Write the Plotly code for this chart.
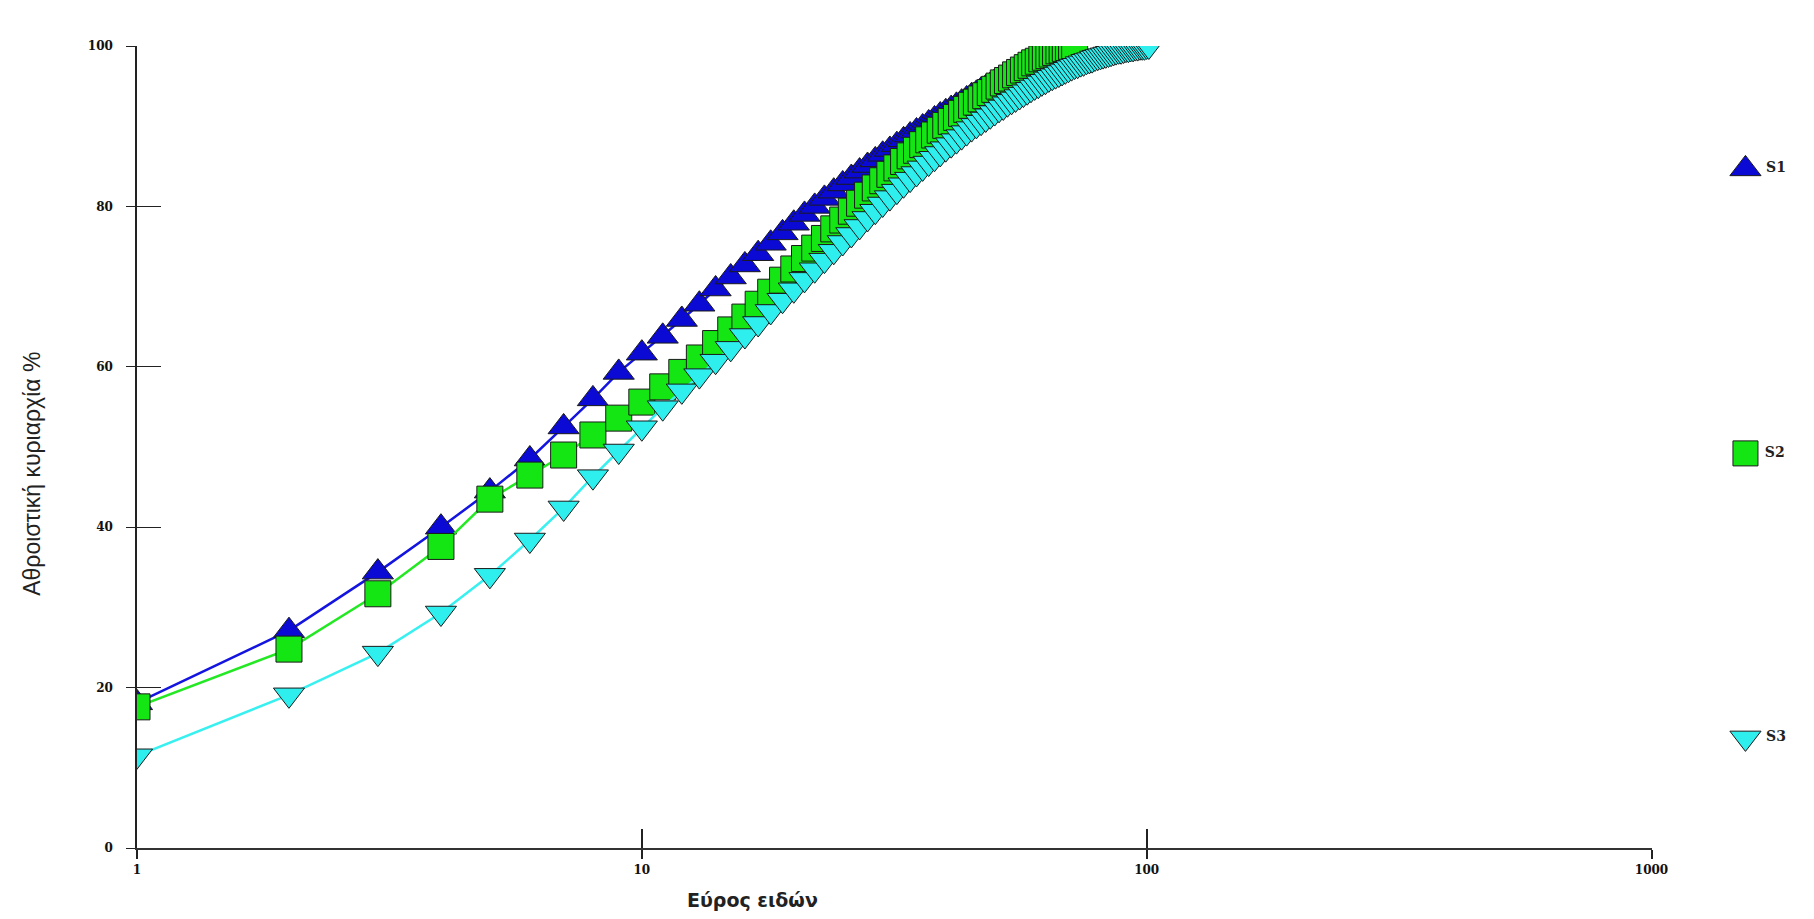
import plotly.graph_objects as go

series_names = ["S1", "S2", "S3"]

s1_values = [18.1, 27.1, 34.4, 40.0, 44.5, 48.5, 52.5, 56.0, 59.3, 61.7,
             63.8, 65.9, 67.8, 69.7, 71.2, 72.7, 74.1, 75.4, 76.7, 77.9,
             79.0, 80.0, 81.0, 81.9, 82.8, 83.6, 84.4, 85.1, 85.8, 86.5,
             87.1, 87.7, 88.3, 88.9, 89.4, 89.9, 90.4, 90.9, 91.4, 91.8,
             92.2, 92.6, 93.0, 93.4, 93.8, 94.1, 94.5, 94.8, 95.1, 95.5,
             95.8, 96.1, 96.4, 96.7, 97.0, 97.3, 97.6, 97.9, 98.2, 98.5,
             98.8, 99.1, 99.4, 99.7, 100.0]

s2_values = [17.6, 24.8, 31.7, 37.6, 43.5, 46.5, 49.0, 51.5, 53.6, 55.6,
             57.5, 59.3, 61.1, 62.9, 64.6, 66.2, 67.8, 69.3, 70.8, 72.2,
             73.5, 74.8, 76.0, 77.2, 78.3, 79.4, 80.4, 81.4, 82.3, 83.2,
             84.0, 84.8, 85.6, 86.3, 87.0, 87.7, 88.3, 88.9, 89.5, 90.1,
             90.6, 91.1, 91.6, 92.1, 92.6, 93.0, 93.4, 93.8, 94.2, 94.6,
             95.0, 95.4, 95.7, 96.0, 96.4, 96.7, 97.0, 97.3, 97.6, 97.9,
             98.1, 98.4, 98.6, 98.8, 99.0, 99.2, 99.4, 99.5, 99.7, 99.8,
             99.9, 100.0]

s3_values = [11.5, 19.1, 24.3, 29.3, 34.0, 38.4, 42.4, 46.3, 49.5, 52.4,
             54.9, 57.0, 58.9, 60.7, 62.3, 63.9, 65.4, 66.9, 68.3, 69.6,
             70.9, 72.1, 73.3, 74.4, 75.5, 76.5, 77.5, 78.5, 79.4, 80.3,
             81.1, 81.9, 82.7, 83.4, 84.1, 84.8, 85.4, 86.0, 86.6, 87.2,
             87.7, 88.2, 88.7, 89.2, 89.7, 90.1, 90.5, 90.9, 91.3, 91.7,
             92.1, 92.4, 92.8, 93.1, 93.4, 93.7, 94.0, 94.3, 94.6, 94.9,
             95.1, 95.4, 95.6, 95.9, 96.1, 96.3, 96.5, 96.7, 96.9, 97.1,
             97.3, 97.5, 97.6, 97.8, 97.9, 98.1, 98.2, 98.3, 98.5, 98.6,
             98.7, 98.8, 98.9, 99.0, 99.1, 99.2, 99.3, 99.4, 99.4, 99.5,
             99.6, 99.6, 99.7, 99.7, 99.8, 99.8, 99.9, 99.9, 99.9, 100.0,
             100.0]

x_tick_vals = [1, 10, 100, 1000]
x_tick_text = ["1", "10", "100", "1000"]
y_tick_vals = [0, 20, 40, 60, 80, 100]
y_tick_text = ["0", "20", "40", "60", "80", "100"]

x_title = "Εύρος ειδών"
y_title = "Αθροιστική κυριαρχία %"

all_values = [s1_values, s2_values, s3_values]
marker_colors = ["#0a0ad4", "#14e614", "#2eeeee"]
line_colors = ["#1414e0", "#24e824", "#38f0f0"]
symbols = ["triangle-up", "square", "triangle-down"]
sizes = [27, 26, 27]
legend_sizes = [27, 25, 27]

fig = go.Figure()
for name, vals, mc, lc, sym, sz in zip(series_names, all_values, marker_colors,
                                       line_colors, symbols, sizes):
    ranks = list(range(1, len(vals) + 1))
    fig.add_trace(go.Scatter(
        x=ranks, y=vals, mode="lines+markers", name=name, showlegend=False,
        line=dict(color=lc, width=2.5),
        marker=dict(symbol=sym, size=sz, color=mc, opacity=1,
                    line=dict(color="#1a1a1a", width=1)),
    ))

# Key (legend) drawn as a small categorical panel in the right margin
fig.add_trace(go.Scatter(
    x=[0] * len(series_names), y=series_names, mode="markers+text",
    text=["\u2009" + n for n in series_names], textposition="middle right",
    textfont=dict(family="DejaVu Serif, Liberation Serif, serif", size=14,
                  color="#222222", weight="bold"),
    marker=dict(symbol=symbols, size=legend_sizes, color=marker_colors,
                opacity=1, line=dict(color="#1a1a1a", width=1)),
    cliponaxis=False,
    xaxis="x3", yaxis="y3", showlegend=False, hoverinfo="skip",
))

tick_font = dict(family="DejaVu Serif, Liberation Serif, serif", size=12,
                 color="#111111", weight="bold")

plot_w = 1642.0
main_frac = 1514.5 / plot_w

fig.update_layout(
    width=1798, height=903,
    margin=dict(l=128.5, r=10, t=38, b=63),
    paper_bgcolor="white", plot_bgcolor="white",
    showlegend=False,
    xaxis=dict(type="log", range=[0, 3], domain=[0, main_frac],
               showgrid=False, zeroline=False,
               showline=True, linecolor="#333333", linewidth=1.5,
               ticks="outside", ticklen=9, tickwidth=1.5, tickcolor="#222222",
               tickvals=x_tick_vals, ticktext=x_tick_text,
               tickfont=tick_font, ticklabelstandoff=1),
    yaxis=dict(range=[0, 100], showgrid=False, zeroline=False,
               showline=True, linecolor="#222222", linewidth=1.5,
               ticks="outside", ticklen=9, tickwidth=1.2, tickcolor="#222222",
               tickvals=y_tick_vals, ticktext=y_tick_text,
               tickfont=tick_font, ticklabelstandoff=11),
    xaxis2=dict(type="log", range=[0, 3], domain=[0, main_frac],
                overlaying="x", anchor="y",
                side="bottom", showgrid=False, zeroline=False,
                showline=False, ticks="inside", ticklen=19, tickwidth=1.5,
                tickcolor="#222222", tickvals=[10, 100, 1000],
                showticklabels=False),
    yaxis2=dict(range=[0, 100], overlaying="y", anchor="x", side="left",
                showgrid=False, zeroline=False, showline=False,
                ticks="inside", ticklen=24, tickwidth=1.2, tickcolor="#222222",
                tickvals=[20, 40, 60, 80, 100], showticklabels=False),
    xaxis3=dict(domain=[main_frac, 1], range=[-1, 0.357], anchor="y3",
                visible=False, fixedrange=True),
    yaxis3=dict(domain=[0, 1], anchor="x3", type="category",
                categoryorder="array", categoryarray=series_names[::-1],
                range=[-0.387, 2.432], visible=False, fixedrange=True),
    annotations=[
        dict(text=x_title, xref="paper", yref="paper", x=615.5 / plot_w,
             y=-0.0648, xanchor="center", yanchor="middle", showarrow=False,
             font=dict(family="DejaVu Sans, Verdana, sans-serif", size=19,
                       color="#222222", weight="bold")),
        dict(text=y_title, xref="paper", yref="paper",
             x=-104.5 / plot_w, y=0.466,
             xanchor="center", yanchor="middle", showarrow=False,
             textangle=-90,
             font=dict(family="Liberation Sans Narrow, Liberation Sans, Arial, sans-serif",
                       size=23, color="#222222")),
    ],
)

fig.add_trace(go.Scatter(x=[None], y=[None], xaxis="x2", yaxis="y2",
                         showlegend=False, hoverinfo="skip"))

fig.write_html("out.html")
